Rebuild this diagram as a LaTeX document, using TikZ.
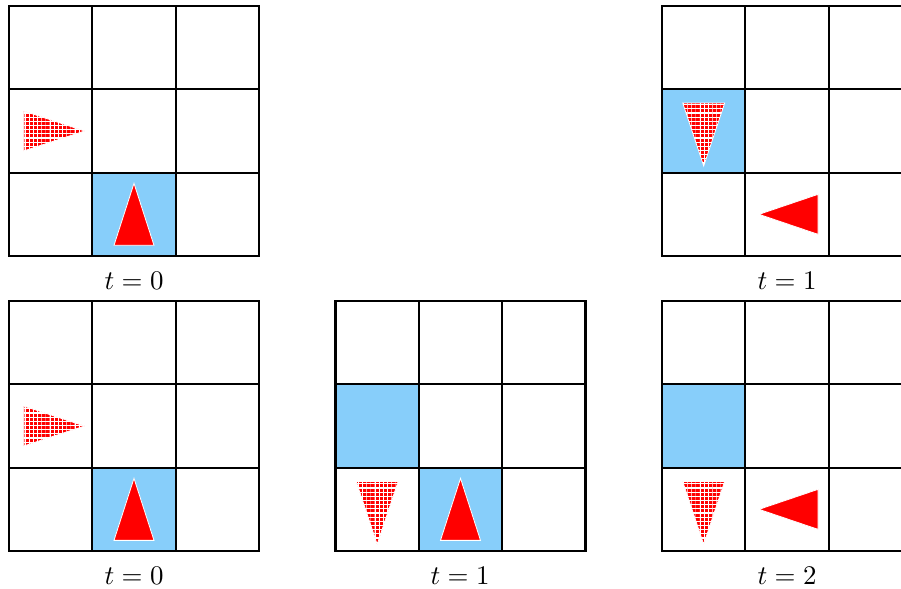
\documentclass[tikz,border=0pt]{standalone}
\usetikzlibrary{patterns}
\definecolor{cellblue}{RGB}{135,206,250}
% fine white mesh laid over the red fill of the hatched agents
\pgfdeclarepatternformonly{finegrid}{\pgfqpoint{-0.1pt}{-0.1pt}}{\pgfqpoint{1.6pt}{1.6pt}}{\pgfqpoint{1.55pt}{1.55pt}}{
  \pgfsetlinewidth{0.4pt}
  \pgfpathmoveto{\pgfqpoint{0pt}{0pt}}\pgfpathlineto{\pgfqpoint{1.6pt}{0pt}}
  \pgfpathmoveto{\pgfqpoint{0pt}{0pt}}\pgfpathlineto{\pgfqpoint{0pt}{1.6pt}}
  \pgfusepath{stroke}}
\begin{document}
\begin{tikzpicture}[x=0.372pt,y=-0.372pt,
  gridline/.style={line width=0.8pt, black, line cap=rect},
  visited/.style={fill=cellblue},
  agent/.style={fill=red, draw=white, line width=0.3pt},
  ghost/.style={fill=red, draw=white, line width=0.3pt,
                postaction={pattern=finegrid, pattern color=white}},
  steplabel/.style={inner sep=0pt},
  pics/tri up/.style={code={\path[#1] (-20,31) -- (20,31) -- (0,-31) -- cycle;}},
  pics/tri down/.style={code={\path[#1] (-21,-28) -- (21,-28) -- (0,35) -- cycle;}},
  pics/tri right/.style={code={\path[#1] (-27,-20) -- (-27,20) -- (34,0) -- cycle;}},
  pics/tri left/.style={code={\path[#1] (31,-20) -- (31,20) -- (-28,0) -- cycle;}}]
\useasboundingbox (0,0) rectangle (901,588);
\clip (0,0) rectangle (901,588);

\def\cs{83.33}
% a 3x3 board with its top-left corner at (#1,#2)
\newcommand\board[2]{
  \foreach \k in {0,1,2,3} {
    \draw[gridline] ({#1+\k*\cs},#2) -- ({#1+\k*\cs},{#2+3*\cs});
    \draw[gridline] (#1,{#2+\k*\cs}) -- ({#1+3*\cs},{#2+\k*\cs});
  }
}
% fill cell (column #3, row #4) of the board at (#1,#2)
\newcommand\shadecell[4]{
  \fill[visited] ({#1+#3*\cs},{#2+#4*\cs}) rectangle ++(\cs,\cs);
}
% centre of a cell
\newcommand\cc[4]{({#1+(#3+0.5)*\cs},{#2+(#4+0.5)*\cs})}

% top row
\shadecell{9}{6}{1}{2}
\board{9}{6}
\pic at \cc{9}{6}{0}{1} {tri right=ghost};
\pic at \cc{9}{6}{1}{2} {tri up=agent};
\node[steplabel] (lbl00) at (134,281) {$t=0$};

\shadecell{662}{6}{0}{1}
\board{662}{6}
\pic at \cc{662}{6}{0}{1} {tri down=ghost};
\pic at \cc{662}{6}{1}{2} {tri left=agent};
\node[steplabel] (lbl01) at (787,281) {$t=1$};

% bottom row
\shadecell{9}{301}{1}{2}
\board{9}{301}
\pic at \cc{9}{301}{0}{1} {tri right=ghost};
\pic at \cc{9}{301}{1}{2} {tri up=agent};
\node[steplabel] (lbl10) at (134,576) {$t=0$};

\shadecell{335.5}{301}{0}{1}
\shadecell{335.5}{301}{1}{2}
\board{335.5}{301}
\pic at \cc{335.5}{301}{0}{2} {tri down=ghost};
\pic at \cc{335.5}{301}{1}{2} {tri up=agent};
\node[steplabel] (lbl11) at (460,576) {$t=1$};

\shadecell{662}{301}{0}{1}
\board{662}{301}
\pic at \cc{662}{301}{0}{2} {tri down=ghost};
\pic at \cc{662}{301}{1}{2} {tri left=agent};
\node[steplabel] (lbl12) at (787,576) {$t=2$};
\end{tikzpicture}
\end{document}
